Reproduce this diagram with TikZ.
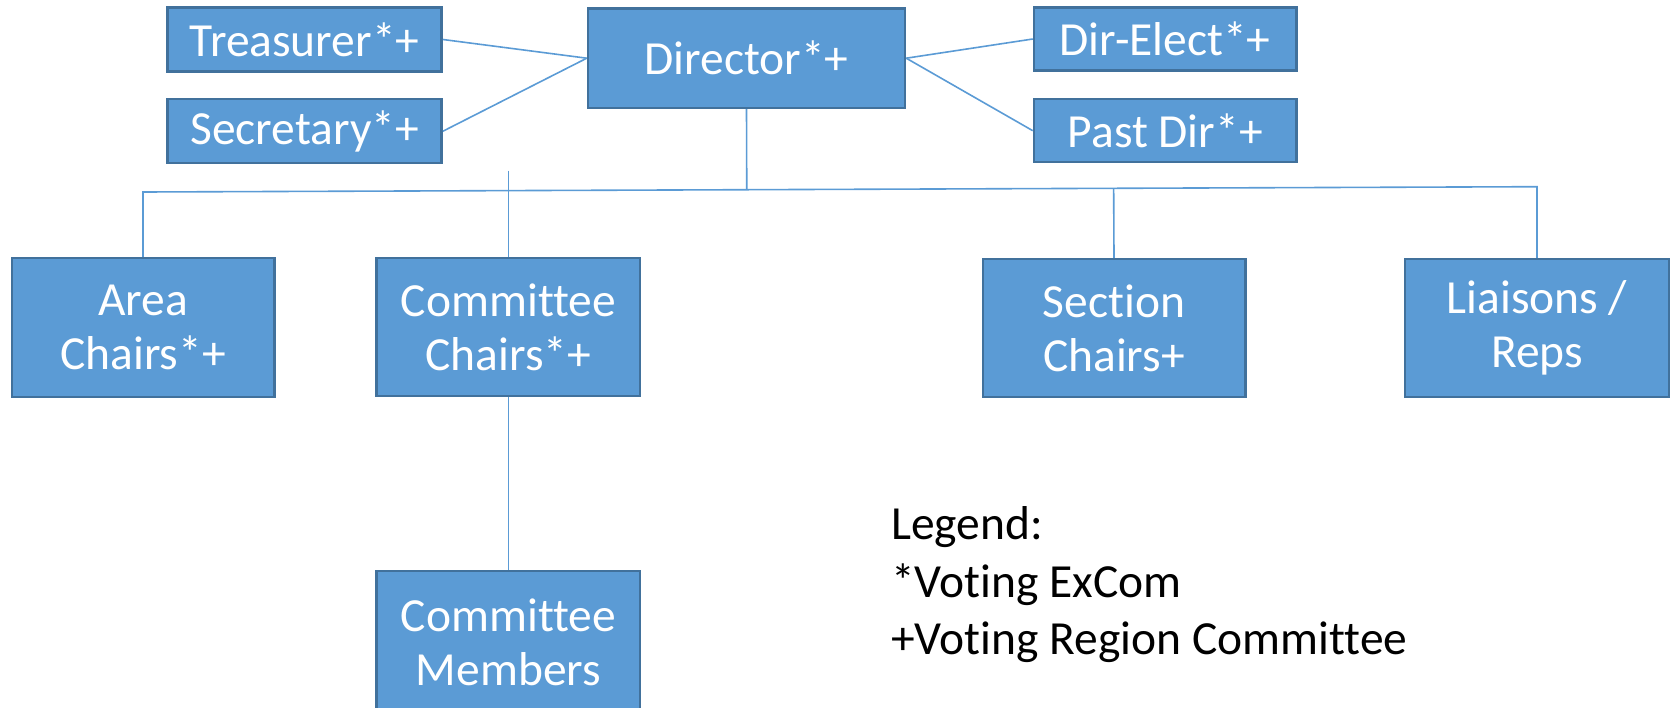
\documentclass[tikz,border=0pt]{standalone}
\usepackage{fontspec}
\setmainfont{Carlito}[Ligatures=NoCommon]
\usetikzlibrary{calc}
\definecolor{boxfill}{HTML}{5B9BD5}
\definecolor{boxline}{HTML}{41719C}
\begin{document}
\begin{tikzpicture}[x=1pt,y=-1pt,
  box/.style={draw=boxline, line width=2.5pt, fill=boxfill, text=white, inner sep=0pt, align=center, font=\fontsize{47.5}{54}\selectfont},
  conn/.style={draw=boxfill, line width=1.6pt},
  legendtext/.style={anchor=base west, inner sep=0pt, font=\fontsize{47.5}{57}\selectfont, text=black}]
\useasboundingbox (0,0) rectangle (1673,707);
\clip (0,0) rectangle (1673,707);
% boxes
\node[box, minimum width=274.2pt, minimum height=64pt] (treas) at (304.6,39.5) {Treasurer*+};
\node[box, minimum width=274.2pt, minimum height=64pt] (sec) at (304.6,131.2) {Secretary*+};
\node[box, minimum width=317pt, minimum height=99.3pt] (dir) at (746.5,58.2) {Director*+};
\node[box, minimum width=262.4pt, minimum height=63pt] (direl) at (1165.2,39) {Dir-Elect*+};
\node[box, minimum width=262.4pt, minimum height=63pt] (past) at (1165.2,130.7) {Past Dir*+};
\node[box, minimum width=262.5pt, minimum height=139pt] (area) at (143,327.5) {Area\\Chairs*+};
\node[box, minimum width=263.6pt, minimum height=138pt] (comm) at (508.4,327) {Committee\\Chairs*+};
\node[box, minimum width=262.5pt, minimum height=138pt] (sect) at (1114,328) {Section\\Chairs+};
\node[box, minimum width=264pt, minimum height=138pt] (liais) at (1537,328) {Liaisons /\\Reps};
\node[box, minimum width=263.6pt, minimum height=142pt] (memb) at (508.4,642) {Committee\\Members};
% coordinates of the bus
\coordinate (busL) at (143,192);
\coordinate (busR) at (1537,186.7);
\coordinate (ctop) at (508.4,170.7);
% connectors
\draw[conn] (treas.east) -- (dir.west);
\draw[conn] (sec.east) -- (dir.west);
\draw[conn] (direl.west) -- (dir.east);
\draw[conn] (past.west) -- (dir.east);
\draw[conn] (dir.south) -- ($(busL)!(dir.south)!(busR)$);
\draw[conn] (area.north) -- (busL) -- (busR) -- (liais.north);
\draw[conn] (ctop) -- (comm.north);
\draw[conn] ($(busL)!(sect.north)!(busR)$) -- (sect.north);
\draw[conn] (comm.south) -- (memb.north);
% legend
\node[legendtext] (leg1) at (891,539) {Legend:};
\node[legendtext] (leg2) at (891,597) {*Voting ExCom};
\node[legendtext] (leg3) at (891,654) {+Voting Region Committee};
\end{tikzpicture}
\end{document}
